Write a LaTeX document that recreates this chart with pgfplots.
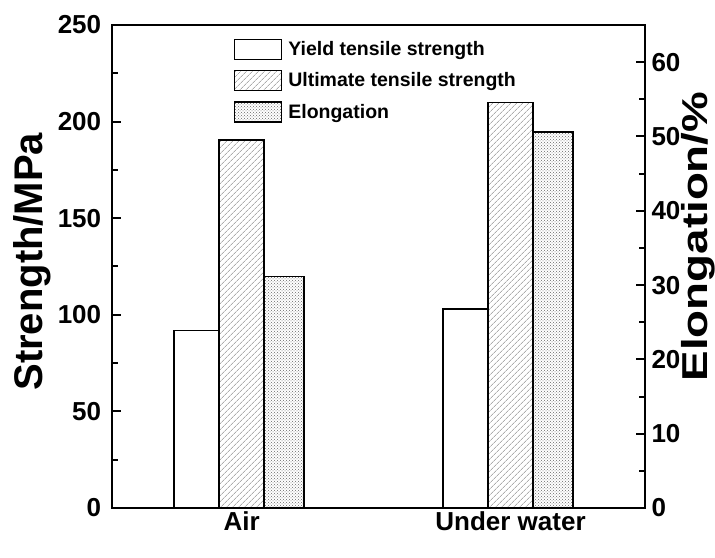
\documentclass[border=0pt]{standalone}
\usepackage{pgfplots}
\pgfplotsset{compat=1.18}
\usepackage{fontspec}
\setmainfont{Liberation Sans}
\usetikzlibrary{patterns,patterns.meta}
\newcommand\tickfont{\bfseries\fontsize{26}{28}\selectfont}
\newcommand\labfont{\bfseries\fontsize{40}{44}\selectfont}
\newcommand\rlabfont{\bfseries\fontsize{36}{40}\selectfont}
\newcommand\legfont{\bfseries\fontsize{19.5}{21}\selectfont}
\pgfplotsset{
  common/.style={
    scale only axis, width=533.3pt, height=483pt,
    xmin=0.517, xmax=2.5,
    /pgf/number format/assume math mode=true,
    tick label style={font=\tickfont},
    axis line style={line width=2pt},
    major tick style={line width=2pt, black},
    minor tick style={line width=2pt, black},
    major tick length=9pt, minor tick length=6pt,
    tick align=inside,
  },
  utsstyle/.style={draw=black, line width=1.3pt, pattern={Lines[angle=45,distance=4pt,line width=0.6pt]}, pattern color=black!50},
  elongstyle/.style={draw=black, line width=1.3pt, pattern=crosshatch dots, pattern color=black!60},
  yieldstyle/.style={draw=black, line width=1.3pt, fill=white},
}
\begin{document}
\begin{tikzpicture}
\begin{axis}[common, name=ax,
  ymin=0, ymax=250,
  ytick={0,50,100,150,200,250},
  minor ytick={25,75,125,175,225},
  ytick pos=left,
  yticklabel style={xshift=-7pt},
  xtick={1,2}, xticklabels={Air, Under water},
  xtick pos=bottom, xtick style={draw=none},
  ylabel={Strength/MPa},
  ylabel style={font=\labfont, at={(axis description cs:-0.149,0.51)}, anchor=center, rotate=0},
  legend image code/.code={\draw[#1,line width=1.3pt] (0pt,-10pt) rectangle (47pt,10pt);},
  legend style={draw=none, fill=none, at={(axis description cs:0.229,0.972)}, anchor=north west,
    inner sep=0pt, row sep=10pt, font=\legfont, /tikz/every odd column/.style={column sep=4pt}},
  legend cell align=left,
]
\addplot[ybar, bar width=0.167, bar shift=0pt, yieldstyle] coordinates {(0.8327,92) (1.8327,103)};
\addlegendentry{Yield tensile strength}
\addplot[ybar, bar width=0.167, bar shift=0pt, utsstyle] coordinates {(1,190.5) (2,210)};
\addlegendentry{Ultimate tensile strength}
\addlegendimage{elongstyle}
\addlegendentry{Elongation}
\end{axis}
\begin{axis}[common,
  ymin=0, ymax=65,
  axis y line*=right, axis x line=none,
  ytick={0,10,20,30,40,50,60},
  minor ytick={5,15,25,35,45,55},
  yticklabel style={xshift=3pt},
  ylabel={\scalebox{1.27}[1]{Elongation/\%}},
  ylabel style={font=\rlabfont, inner sep=0pt, at={(axis description cs:1.1,0.562)}, anchor=center, rotate=0},
]
\addplot[ybar, bar width=0.149, bar shift=0pt, elongstyle] coordinates {(1.158,31.2) (2.158,50.6)};
\end{axis}
\pgfresetboundingbox
\path ([shift={(-111.7pt,-50pt)}]ax.south west) rectangle ([shift={(70pt,25pt)}]ax.north east);
\end{tikzpicture}
\end{document}
